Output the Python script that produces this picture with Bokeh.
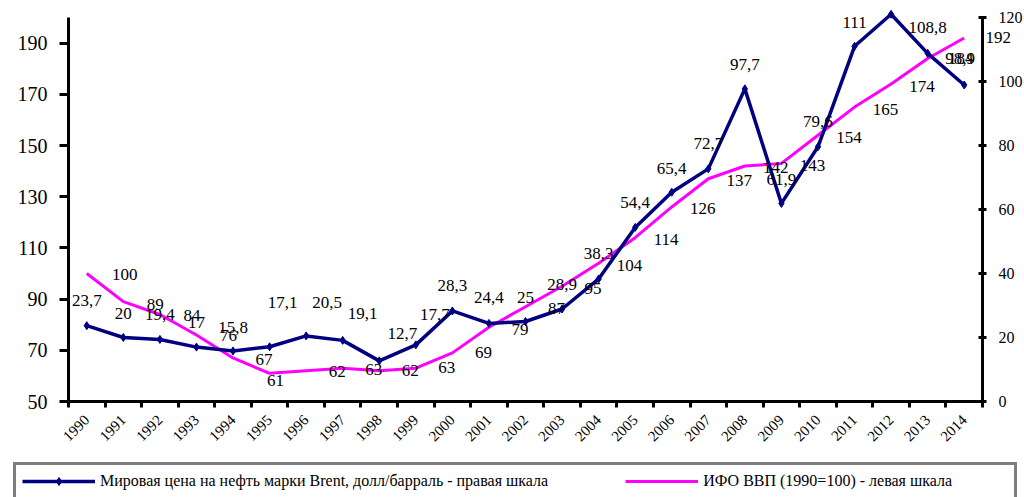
import math
from bokeh.plotting import figure
from bokeh.models import (Range1d, LinearAxis, FixedTicker, ColumnDataSource,
                          LabelSet, Legend, LegendItem)
from bokeh.core.properties import value
from bokeh.embed import file_html
from bokeh.resources import INLINE

# ---- data -------------------------------------------------------------
years = ["1990", "1991", "1992", "1993", "1994", "1995", "1996", "1997",
         "1998", "1999", "2000", "2001", "2002", "2003", "2004", "2005",
         "2006", "2007", "2008", "2009", "2010", "2011", "2012", "2013", "2014"]
brent = [23.7, 20.0, 19.4, 17.0, 15.8, 17.1, 20.5, 19.1, 12.7, 17.7,
         28.3, 24.4, 25.0, 28.9, 38.3, 54.4, 65.4, 72.7, 97.7, 61.9,
         79.6, 111.0, 121.0, 108.8, 98.9]
gdp = [100, 89, 84, 76, 67, 61, 62, 63, 62, 63,
       69, 79, 87, 95, 104, 114, 126, 137, 142, 143,
       154, 165, 174, 184, 192]
left_ticks = [50, 70, 90, 110, 130, 150, 170, 190]
right_ticks = [0, 20, 40, 60, 80, 100, 120]
brent_name = "Мировая цена на нефть марки Brent, долл/барраль - правая шкала"
gdp_name = "ИФО ВВП (1990=100) - левая шкала"

# ---- label placement (screen px), styles -------------------------------
brent_dx = [0, 0, 0, 0, 0, 13, 21, 20, 23, 19, 0, 0, 0, 0, 0, 0, 0, 0, 0, 0, 0, 0, 0, 0, -4]
brent_dy = [25, 24, 25, 25, 23, 44, 33, 27, 27, 30, 25, 26, 24, 25, 25, 25, 24, 25, 24, 24, 25, 24, 25, 26, 27]
gdp_dx = [38, 32, 32, 32, 31, 6, 31, 31, 31, 31, 31, 31, 31, 31, 31, 31, 31, 31, 31, 31, 31, 31, 31, 33, 34]
gdp_dy = [-1, -3, -1, -1, -2, -7, -1, -1, 0, 1, 0, -2, -2, -2, -2, -2, -2, -2, -2, -2, -2, -2, -2, 0, 0]

FONT = "Liberation Serif"
NAVY = "#000080"
MAGENTA = "#FF00FF"

W, H = 1024, 497
# frame-edge pixel positions of the plotting area (axes drawn at fixed locations)
PX_L, PX_R, PX_T, PX_B = 68, 982, 17, 401

L_MIN, L_MAX = 50, 200
R_MIN, R_MAX = 0, 120


def fmt(v):
    s = ("%.1f" % v).rstrip("0").rstrip(".")
    return s.replace(".", ",")


n = len(years)
idx = list(range(n))
dx = (PX_R - PX_L) / n
x0 = -0.5 - PX_L / dx
x1 = n - 0.5 + (W - PX_R) / dx
ls = (PX_B - PX_T) / (L_MAX - L_MIN)
rs = (PX_B - PX_T) / (R_MAX - R_MIN)
yl0 = L_MIN - (H - PX_B) / ls
yl1 = L_MAX + PX_T / ls
yr0 = R_MIN - (H - PX_B) / rs
yr1 = R_MAX + PX_T / rs

src = ColumnDataSource(dict(
    x=idx, brent=brent, gdp=gdp,
    bl=[fmt(v) if v <= R_MAX else "" for v in brent],
    gl=[fmt(v) for v in gdp],
    bdx=brent_dx, bdy=brent_dy, gdx=gdp_dx, gdy=gdp_dy))

p = figure(width=W, height=H, output_backend="svg", toolbar_location=None,
           x_range=Range1d(x0, x1), y_range=Range1d(yl0, yl1),
           min_border=0, x_axis_location=None, y_axis_location=None)
p.outline_line_color = None
p.xgrid.visible = False
p.ygrid.visible = False
p.extra_y_ranges = {"r": Range1d(yr0, yr1)}

# x axis: labels at category centres, ticks at category boundaries
xa = LinearAxis(fixed_location=L_MIN, bounds=(-0.5, n - 0.5),
                ticker=FixedTicker(ticks=idx, minor_ticks=[i - 0.5 for i in range(n + 1)]))
xa.major_label_overrides = {i: y for i, y in enumerate(years)}
xa.major_label_orientation = math.pi / 4
xa.major_tick_in = 0
xa.major_tick_out = 0
xa.minor_tick_in = 0
xa.minor_tick_out = 6
xa.minor_tick_line_width = 3
xa.minor_tick_line_color = "black"
xa.axis_line_width = 3
xa.axis_line_color = "black"
xa.major_label_standoff = 10
xa.major_label_text_font = FONT
xa.major_label_text_font_size = "15px"
xa.major_label_text_color = "black"
p.add_layout(xa, "below")

# left axis
ya = LinearAxis(fixed_location=-0.5, bounds=(L_MIN, L_MAX),
                ticker=FixedTicker(ticks=left_ticks))
ya.major_tick_in = 0
ya.major_tick_out = 9
ya.major_tick_line_width = 3
ya.major_tick_line_color = "black"
ya.minor_tick_line_color = None
ya.axis_line_width = 3
ya.axis_line_color = "black"
ya.major_label_standoff = 12
ya.major_label_text_font = FONT
ya.major_label_text_font_size = "20px"
ya.major_label_text_color = "black"
p.add_layout(ya, "left")

# right axis
ra = LinearAxis(y_range_name="r", fixed_location=n - 0.5, bounds=(R_MIN, R_MAX),
                ticker=FixedTicker(ticks=right_ticks))
ra.major_tick_in = 4
ra.major_tick_out = 4
ra.major_tick_line_width = 3
ra.major_tick_line_color = "black"
ra.minor_tick_line_color = None
ra.axis_line_width = 3
ra.axis_line_color = "black"
ra.major_label_standoff = 12
ra.major_label_text_font = FONT
ra.major_label_text_font_size = "16px"
ra.major_label_text_color = "black"
p.add_layout(ra, "right")

# series
g_line = p.line("x", "gdp", source=src, line_color=MAGENTA, line_width=3)
b_line = p.line("x", "brent", source=src, y_range_name="r",
                line_color=NAVY, line_width=3.5)
b_pts = p.scatter("x", "brent", source=src, y_range_name="r", marker="diamond",
                  size=8, fill_color=NAVY, line_color=NAVY)

# data labels
p.add_layout(LabelSet(x="x", y="brent", text="bl", source=src, y_range_name="r",
                      x_offset="bdx", y_offset="bdy", text_align="center",
                      text_baseline="middle", text_font=value(FONT),
                      text_font_size="17px", text_color="black"))
p.add_layout(LabelSet(x="x", y="gdp", text="gl", source=src,
                      x_offset="gdx", y_offset="gdy", text_align="center",
                      text_baseline="middle", text_font=value(FONT),
                      text_font_size="17px", text_color="black"))

legend = Legend(items=[LegendItem(label=brent_name, renderers=[b_line, b_pts]),
                       LegendItem(label=gdp_name, renderers=[g_line])],
                orientation="horizontal", location=(13, -3),
                padding=6, spacing=77, glyph_width=73, glyph_height=20,
                label_standoff=5, label_height=20, label_width=305,
                border_line_color="black", border_line_width=3,
                background_fill_color="white", background_fill_alpha=1.0,
                label_text_font=FONT, label_text_font_size="16px",
                label_text_color="black")
p.add_layout(legend)

open("out.html", "w").write(file_html(p, INLINE))
